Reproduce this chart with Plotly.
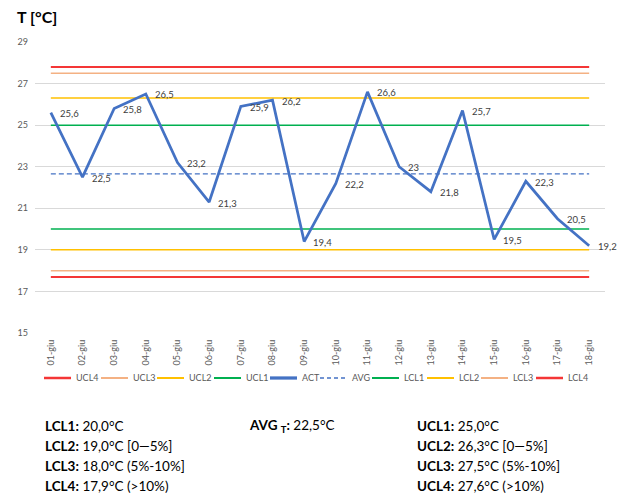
import plotly.graph_objects as go

days = ["01-giu", "02-giu", "03-giu", "04-giu", "05-giu", "06-giu", "07-giu", "08-giu", "09-giu",
        "10-giu", "11-giu", "12-giu", "13-giu", "14-giu", "15-giu", "16-giu", "17-giu", "18-giu"]
act = [25.6, 22.5, 25.8, 26.5, 23.2, 21.3, 25.9, 26.2, 19.4, 22.2, 26.6, 23.0, 21.8, 25.7, 19.5, 22.3, 20.5, 19.2]
act_labels = ["25,6", "22,5", "25,8", "26,5", "23,2", "21,3", "25,9", "26,2", "19,4",
              "22,2", "26,6", "23", "21,8", "25,7", "19,5", "22,3", "20,5", "19,2"]
avg_value = 22.65
ucl_values = {"UCL4": 27.8, "UCL3": 27.5, "UCL2": 26.3, "UCL1": 25.0}
lcl_values = {"LCL1": 20.0, "LCL2": 19.0, "LCL3": 18.0, "LCL4": 17.7}
y_ticks = [15, 17, 19, 21, 23, 25, 27, 29]
legend_order = ["UCL4", "UCL3", "UCL2", "UCL1", "ACT", "AVG", "LCL1", "LCL2", "LCL3", "LCL4"]

colors = {"UCL4": "#F43636", "UCL3": "#F4B183", "UCL2": "#FFC000", "UCL1": "#00B050",
          "LCL1": "#00B050", "LCL2": "#FFC000", "LCL3": "#F4B183", "LCL4": "#F43636",
          "ACT": "#4472C4", "AVG": "#4472C4"}
widths = {"UCL4": 2, "UCL3": 1.5, "UCL2": 1.5, "UCL1": 1.5,
          "LCL1": 1.5, "LCL2": 1.5, "LCL3": 1.5, "LCL4": 2, "ACT": 2.75, "AVG": 1.25}
dashes = {k: "solid" for k in colors}
dashes["AVG"] = "4px,3px"

FONT = "Lato, 'Open Sans', sans-serif"
n = len(days)
fig = go.Figure()

for name, v in list(ucl_values.items()) + list(lcl_values.items()):
    fig.add_trace(go.Scatter(x=days, y=[v] * n, mode="lines", name=name,
                             line=dict(color=colors[name], width=widths[name]),
                             hoverinfo="skip"))

fig.add_trace(go.Scatter(x=days, y=[avg_value] * n, mode="lines", name="AVG",
                         line=dict(color=colors["AVG"], width=widths["AVG"], dash="5px,3px")))

fig.add_trace(go.Scatter(x=days, y=act, mode="lines", name="ACT",
                         line=dict(color=colors["ACT"], width=widths["ACT"])))

L, R, T, B = 35, 19, 42, 162
W, H = 624, 495
pw, ph = W - L - R, H - T - B


def px_x(x):
    return (x - L) / pw


def px_y(y):
    return (H - B - y) / ph


fig.update_layout(
    width=W, height=H,
    margin=dict(l=L, r=R, t=T, b=B, autoexpand=False),
    paper_bgcolor="white", plot_bgcolor="white",
    font=dict(family=FONT, color="#595959", size=9),
    showlegend=False,
    xaxis=dict(type="category", range=[-0.5, n - 0.5], tickangle=-90,
               showgrid=False, zeroline=False, showline=False, automargin=False,
               tickfont=dict(size=9, color="#595959"), ticks="", ticklabelstandoff=4),
    yaxis=dict(range=[15, 29], tickvals=y_ticks, showgrid=True, gridcolor="#D9D9D9",
               gridwidth=1, zeroline=False, showline=False, automargin=False,
               tickfont=dict(size=9, color="#595959"), ticks="", ticklabelstandoff=6),
)

anns = []
# data labels, anchored to the data points through the axes
for d, v, t in zip(days, act, act_labels):
    anns.append(dict(x=d, y=v, xref="x", yref="y", text=t, xanchor="left", yanchor="middle",
                     xshift=7, yshift=-1, font=dict(size=9.5, color="#404040", family=FONT),
                     showarrow=False))

paper_anns = [dict(x=px_x(15), y=px_y(16), text="<b>T [°C]</b>",
                   font=dict(size=16, color="#000000"), xanchor="left", yanchor="middle")]

# manual legend
leg_x = [44, 101, 157, 214, 270, 320, 372, 427, 481, 536]
leg_y = px_y(378)
shapes = []
for name, x0 in zip(legend_order, leg_x):
    shapes.append(dict(type="line", xref="paper", yref="paper",
                       x0=px_x(x0), x1=px_x(x0 + 27), y0=leg_y, y1=leg_y,
                       line=dict(color=colors[name], width=min(widths[name] + 0.5, 3.5) if name != "AVG" else 1.5,
                                 dash=dashes[name])))
    paper_anns.append(dict(x=px_x(x0 + 30), y=leg_y, text=name, xanchor="left", yanchor="middle",
                           font=dict(size=9, color="#595959")))

col1 = ["<b>LCL1:</b> 20,0°C", "<b>LCL2:</b> 19,0°C [0—5%]",
        "<b>LCL3:</b> 18,0°C (5%-10%]", "<b>LCL4:</b> 17,9°C (>10%)"]
col2 = ["<b>AVG <sub>T</sub>:</b> 22,5°C"]
col3 = ["<b>UCL1:</b> 25,0°C", "<b>UCL2:</b> 26,3°C [0—5%]",
        "<b>UCL3:</b> 27,5°C (5%-10%]", "<b>UCL4:</b> 27,6°C (>10%)"]
rows_y = [426, 446, 466, 486]
for xpx, col in [(43, col1), (247, col2), (415, col3)]:
    for i, t in enumerate(col):
        paper_anns.append(dict(x=px_x(xpx), y=px_y(rows_y[i]), text=t,
                               font=dict(size=13.5, color="#000000", family=FONT),
                               xanchor="left", yanchor="middle"))

for a in paper_anns:
    a.update(xref="paper", yref="paper", showarrow=False)
fig.update_layout(annotations=anns + paper_anns, shapes=shapes)

fig.write_html("out.html", config={"displayModeBar": False},
               post_script="document.body.style.margin='0';document.body.style.padding='0';")
